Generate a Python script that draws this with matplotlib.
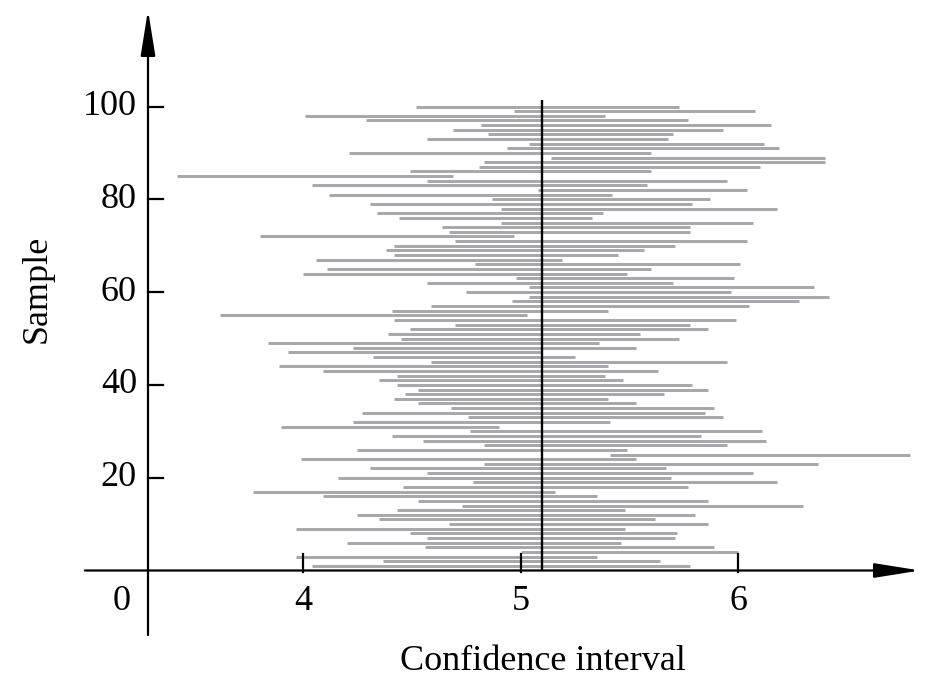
import numpy as np
import matplotlib
matplotlib.use("Agg")
import matplotlib.pyplot as plt

# ---------------- data ----------------
sample = list(range(1, 101))
lower = [4.04, 4.37, 3.97, 5.00, 4.56, 4.20, 4.57, 4.49, 3.97, 4.67,
         4.35, 4.25, 4.43, 4.73, 4.53, 4.09, 3.77, 4.46, 4.78, 4.16,
         4.57, 4.31, 4.83, 3.99, 5.41, 4.25, 4.83, 4.55, 4.41, 4.77,
         3.90, 4.23, 4.76, 4.27, 4.68, 4.53, 4.42, 4.47, 4.53, 4.43,
         4.35, 4.43, 4.09, 3.89, 4.59, 4.32, 3.93, 4.23, 3.84, 4.45,
         4.39, 4.49, 4.70, 4.42, 3.62, 4.41, 4.59, 4.96, 5.04, 4.75,
         5.04, 4.57, 4.98, 4.00, 4.11, 4.79, 4.06, 4.42, 4.38, 4.42,
         4.70, 3.80, 4.67, 4.64, 4.91, 4.44, 4.34, 4.91, 4.31, 4.87,
         4.12, 5.08, 4.04, 4.57, 3.42, 4.49, 4.81, 4.83, 5.14, 4.21,
         4.94, 5.04, 4.57, 4.85, 4.69, 4.82, 4.29, 4.01, 4.97, 4.52]
upper = [5.78, 5.64, 5.35, 6.00, 5.89, 5.46, 5.71, 5.72, 5.48, 5.86,
         5.62, 5.80, 5.48, 6.30, 5.86, 5.35, 5.16, 5.77, 6.18, 5.69,
         6.07, 5.67, 6.37, 5.53, 6.79, 5.49, 5.95, 6.13, 5.83, 6.11,
         4.90, 5.41, 5.93, 5.85, 5.89, 5.53, 5.40, 5.66, 5.86, 5.79,
         5.47, 5.39, 5.63, 5.40, 5.95, 5.25, 5.10, 5.53, 5.36, 5.73,
         5.55, 5.86, 5.78, 5.99, 5.03, 5.40, 6.05, 6.28, 6.42, 5.97,
         6.35, 5.70, 5.98, 5.49, 5.60, 6.01, 5.19, 5.45, 5.57, 5.71,
         6.04, 4.97, 5.78, 5.78, 6.07, 5.33, 5.38, 6.18, 5.79, 5.87,
         5.42, 6.04, 5.58, 5.95, 4.69, 5.60, 6.10, 6.40, 6.40, 5.60,
         6.19, 6.12, 5.68, 5.70, 5.93, 6.15, 5.77, 5.39, 6.08, 5.73]
true_mean = 5.10
x_ticks = [4, 5, 6]
x_ticklabels = ["4", "5", "6"]
y_ticks = [20, 40, 60, 80, 100]
y_ticklabels = ["20", "40", "60", "80", "100"]

# ---------------- layout ----------------
W, H = 946, 677
fig = plt.figure(figsize=(W / 100, H / 100), dpi=100)
ax = fig.add_axes([0, 0, 1, 1])

# pixel mapping of the reference: x=4 at px 303, 1 unit = 217.5 px
# sample 0 at py 570.5, 1 sample = 4.64 px
XU, X0PX = 217.5, 303.0
YU, Y0PX = 4.64, 570.5
px2x = lambda px: 4 + (px - X0PX) / XU
py2y = lambda py: (Y0PX - py) / YU
ax.set_xlim(px2x(0), px2x(W))
ax.set_ylim(py2y(H), py2y(0))
ax.axis("off")

font = ["Liberation Serif", "DejaVu Serif"]
fs = 26

# intervals
ax.hlines(sample, lower, upper, color="#a7a7ab", lw=2.1, zorder=2)
# true mean line
ax.vlines(true_mean, 0, py2y(100), color="black", lw=1.7, zorder=3)

# axes with arrows
axis_x = px2x(148)
arrow = dict(arrowstyle="-|>,head_length=1.0,head_width=0.16", lw=1.6,
             color="black", shrinkA=0, shrinkB=0, mutation_scale=28)
ax.annotate("", xy=(px2x(920), 0), xytext=(px2x(85), 0), arrowprops=arrow, zorder=4)
ax.annotate("", xy=(axis_x, py2y(10)), xytext=(axis_x, py2y(635)),
            arrowprops=arrow, zorder=4)

# ticks
tick_len_y = 17 / YU
for t in x_ticks:
    ax.plot([t, t], [-1 / YU, tick_len_y], color="black", lw=1.6, zorder=4)
tick_len_x = 15 / XU
for t in y_ticks:
    ax.plot([axis_x, axis_x + tick_len_x], [t, t], color="black", lw=1.6, zorder=4)

# tick labels
for t, lab in zip(x_ticks, x_ticklabels):
    ax.text(t, py2y(602), lab, ha="center", va="center", fontsize=fs, family=font)
ax.text(px2x(122), py2y(602), "0", ha="center", va="center", fontsize=fs, family=font)
for t, lab in zip(y_ticks, y_ticklabels):
    ax.text(px2x(137), t, lab, ha="right", va="center", fontsize=fs, family=font)

# axis labels
ax.text(px2x(543), py2y(661), "Confidence interval", ha="center", va="center",
        fontsize=fs, family=font)
ax.text(px2x(37), py2y(289), "Sample", ha="center", va="center", rotation=90,
        fontsize=fs, family=font)

fig.savefig("out.png", dpi=100)
